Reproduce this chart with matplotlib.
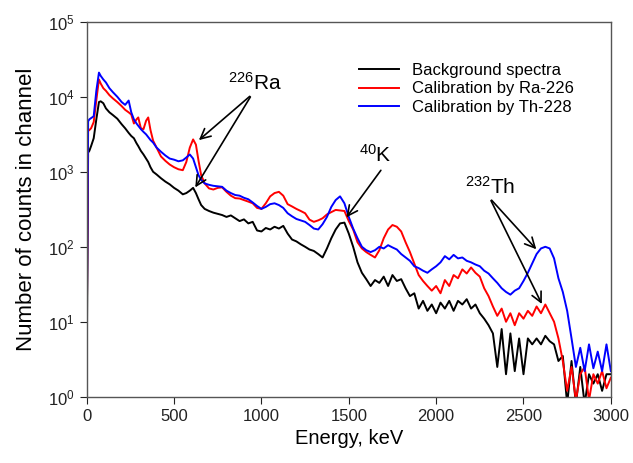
import matplotlib
matplotlib.use("Agg")
import matplotlib.pyplot as plt
from matplotlib.ticker import LogLocator, NullLocator

plt.rcParams['font.family'] = ['Liberation Sans', 'DejaVu Sans']
plt.rcParams['mathtext.fontset'] = 'custom'
plt.rcParams['mathtext.rm'] = 'Liberation Sans'
plt.rcParams['mathtext.it'] = 'Liberation Sans:italic'

# energy grid, keV
energy = [0, 8, 15, 25, 40, 55, 70, 80, 95, 110, 130, 150, 175, 200, 220, 240,
          255, 270, 285, 295, 310, 325, 340, 352, 365, 380, 400, 425, 450, 475,
          500, 525, 550, 570, 590, 609, 625, 640, 655, 675,
          700, 725, 750, 775, 800, 825, 850, 875, 900, 925, 950, 975,
          1000, 1025, 1050, 1075, 1100, 1125, 1150, 1175, 1200, 1225, 1250, 1275,
          1300, 1325, 1350, 1375, 1400, 1425, 1450, 1475, 1500, 1525, 1550, 1575,
          1600, 1625, 1650, 1675, 1700, 1725, 1750, 1775, 1800, 1825, 1850, 1875,
          1900, 1925, 1950, 1975, 2000, 2025, 2050, 2075, 2100, 2125, 2150, 2175,
          2200, 2225, 2250, 2275, 2300, 2325, 2350, 2375, 2400, 2425, 2450, 2475,
          2500, 2525, 2550, 2575, 2600, 2625, 2650, 2675, 2700, 2725, 2750, 2775,
          2800, 2825, 2850, 2875, 2900, 2925, 2950, 2975, 3000]

background = [2, 1800, 1900, 2200, 2800, 5000, 8500, 8700, 8200, 7000, 6200, 5700,
              5100, 4300, 3800, 3300, 3000, 2800, 2400, 2200, 1900, 1700, 1500, 1350,
              1150, 1000, 920, 820, 740, 680, 610, 560, 500, 520, 560, 610, 520, 430,
              360, 320,
              300, 285, 275, 265, 250, 262, 240, 220, 232, 205, 215, 165,
              160, 178, 170, 185, 175, 190, 150, 125, 118, 108, 100, 92,
              88, 80, 72, 95, 130, 170, 205, 210, 150, 100, 62, 45,
              37, 30, 36, 33, 40, 30, 42, 35, 37, 28, 22, 24,
              15, 19, 14, 17, 13, 18, 15, 19, 14, 19, 17, 20,
              15, 17, 13, 11, 9, 7, 2.5, 8, 2, 7, 2.2, 6,
              2, 6, 5, 6, 5, 6.5, 5.5, 5, 3, 3.5, 0.8, 3,
              0.8, 2.5, 0.8, 2, 1.5, 2, 1.2, 2, 2]

ra226 = [5, 3500, 3600, 3800, 4600, 9000, 17000, 15000, 13000, 12000, 10500, 9500,
         8500, 7500, 6700, 6200, 5800, 4400, 5000, 5300, 3800, 3700, 4800, 5300,
         3600, 2600, 2100, 1600, 1400, 1250, 1150, 1080, 1050, 1350, 2100, 2700,
         2300, 1400, 900, 700,
         600, 580, 610, 620, 540, 480, 445, 440, 420, 400, 380, 330,
         320, 380, 470, 520, 540, 480, 370, 345, 320, 300, 280, 230,
         215, 225, 240, 270, 290, 310, 305, 300, 220, 170, 115, 95,
         85, 78, 72, 90, 130, 170, 195, 185, 160, 115, 85, 60,
         42, 35, 30, 26, 30, 24, 36, 30, 42, 38, 50, 44,
         53, 45, 40, 28, 22, 16, 12, 15, 10, 13, 9, 13,
         11, 14, 12, 16, 13, 17, 13, 10, 6, 3, 1.2, 2.5,
         0.9, 2, 2.5, 0.9, 2, 1.5, 2.2, 1.3, 1.8]

th228 = [5, 4700, 5000, 5200, 5500, 12000, 21000, 19000, 17000, 15500, 13000, 11500,
         10000, 8500, 7800, 8900, 6200, 5000, 4400, 4100, 3700, 3400, 3150, 2900,
         2650, 2450, 2100, 1850, 1650, 1500, 1450, 1380, 1420, 1550, 1700, 1500,
         1150, 900, 780, 700,
         670, 650, 640, 630, 560, 520, 490, 480, 450, 430, 390, 350,
         320, 340, 370, 380, 360, 330, 280, 255, 235, 225, 215, 195,
         175, 170, 200, 250, 340, 420, 470, 380, 250, 175, 130, 100,
         90, 85, 90, 100, 95, 105, 98, 92, 80, 72, 65, 55,
         52, 48, 45, 50, 55, 62, 75, 68, 78, 70, 72, 65,
         62, 58, 55, 48, 44, 38, 33, 28, 25, 23, 26, 28,
         35, 45, 60, 80, 95, 100, 95, 70, 38, 25, 14, 6,
         2.5, 4.5, 2.2, 5, 2.4, 4, 2.2, 5, 2.2]

fig = plt.figure(figsize=(6.33, 4.63), dpi=100)
ax = fig.add_axes([0.137, 0.143, 0.828, 0.81])

ax.plot(energy, background, color='black', lw=1.4, label='Background spectra')
ax.plot(energy, ra226, color='#ff0000', lw=1.4, label='Calibration by Ra-226')
ax.plot(energy, th228, color='#0000ff', lw=1.4, label='Calibration by Th-228')

ax.set_yscale('log')
ax.set_xlim(0, 3000)
ax.set_ylim(1, 1e5)
ax.set_xticks([0, 500, 1000, 1500, 2000, 2500, 3000])
ax.yaxis.set_major_locator(LogLocator(base=10, numticks=10))
ax.yaxis.set_minor_locator(NullLocator())
ax.tick_params(labelsize=12, direction='out', length=5, colors='#222222')
for s in ax.spines.values():
    s.set_color('#555555')
    s.set_linewidth(1.0)

ax.set_xlabel('Energy, keV', fontsize=14.5)
ax.set_ylabel('Number of counts in channel', fontsize=16, labelpad=8)

aprops = dict(arrowstyle='->', color='black', lw=1.2, mutation_scale=18)
ax.text(960, 1.55e4, '$^{226}$Ra', fontsize=15, ha='center', va='center')
ax.annotate('', xy=(630, 2500), xytext=(945, 10700), arrowprops=aprops)
ax.annotate('', xy=(613, 575), xytext=(945, 10700), arrowprops=aprops)

ax.text(1650, 1700, '$^{40}$K', fontsize=15, ha='center', va='center')
ax.annotate('', xy=(1477, 230), xytext=(1693, 1120), arrowprops=aprops)

ax.text(2307, 630, '$^{232}$Th', fontsize=15, ha='center', va='center')
ax.annotate('', xy=(2584, 87), xytext=(2307, 445), arrowprops=aprops)
ax.annotate('', xy=(2612, 16), xytext=(2307, 445), arrowprops=aprops)

ax.legend(loc='upper left', bbox_to_anchor=(0.49, 0.93), frameon=False,
          fontsize=12, handlelength=2.4, labelspacing=0.2, handletextpad=0.8)

fig.savefig('out.png', dpi=100)
